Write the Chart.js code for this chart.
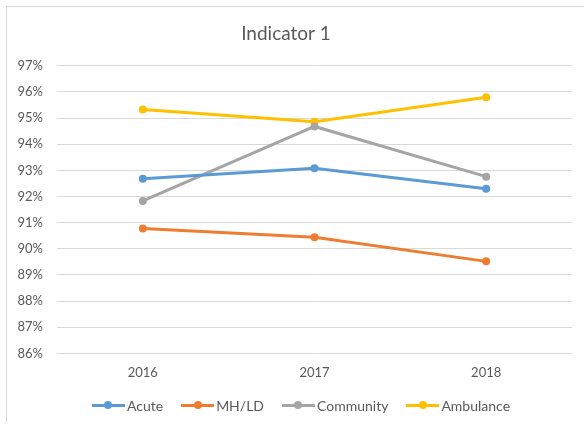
<!DOCTYPE html>
<html>
<head>
<meta charset="utf-8">
<script src="https://cdn.jsdelivr.net/npm/chart.js@4"></script>
<style>
  html, body { margin: 0; padding: 0; background: #fff; }
  #frame { position: relative; width: 584px; height: 426px; }
  #frame::before {
    content: ''; position: absolute; left: 6px; top: 6px; right: -2px; bottom: 4px;
    border-top: 1px solid #d9d9d9; border-left: 1px solid #d9d9d9; pointer-events: none;
  }
  canvas { display: block; }
  #legend {
    position: absolute; left: 0; right: 0; top: 396px; height: 18px;
    display: flex; justify-content: center; align-items: center;
    padding-left: 18px;
    font: 14px Lato, "Open Sans", sans-serif; color: #595959;
  }
  .legend-item { display: flex; align-items: center; margin: 0 9px; }
  .legend-line { position: relative; width: 33px; height: 3px; margin-right: 2px; }
  .legend-dot {
    position: absolute; left: 12.5px; top: -2.5px; width: 8px; height: 8px; border-radius: 50%;
  }
</style>
</head>
<body>
<div id="frame">
  <canvas id="chart" width="584" height="426"></canvas>
  <div id="legend"></div>
</div>
<script>
// Données
const years = ['2016', '2017', '2018'];
const acute = [92.68, 93.08, 92.3];
const mhld = [90.78, 90.44, 89.52];
const community = [91.83, 94.68, 92.76];
const ambulance = [95.33, 94.86, 95.8];
const seriesNames = ['Acute', 'MH/LD', 'Community', 'Ambulance'];
const seriesColors = ['#5B9BD5', '#ED7D31', '#A5A5A5', '#FFC000'];

const textColor = '#595959';
const fontFamily = 'Lato, "Open Sans", sans-serif';

const allSeries = [acute, mhld, community, ambulance];
const datasets = allSeries.map((values, i) => ({
    label: seriesNames[i],
    data: values,
    borderColor: seriesColors[i],
    backgroundColor: seriesColors[i],
    borderWidth: 3,
    pointRadius: 4,
    pointHoverRadius: 4,
    pointBorderWidth: 0,
    tension: 0,
    fill: false
}));

const chart = new Chart(document.getElementById('chart').getContext('2d'), {
    type: 'line',
    data: { labels: years, datasets: datasets },
    options: {
        responsive: false,
        animation: false,
        layout: { padding: { left: 0, right: 12, top: 0, bottom: 33 } },
        plugins: {
            title: {
                display: true,
                text: 'Indicator 1',
                color: textColor,
                font: { family: fontFamily, size: 19, weight: 'normal' },
                padding: { top: 22, bottom: 21 }
            },
            legend: { display: false },
            tooltip: { enabled: false }
        },
        scales: {
            x: {
                offset: true,
                grid: { display: false, drawTicks: false },
                border: { display: false },
                ticks: {
                    color: textColor,
                    font: { family: fontFamily, size: 13 },
                    padding: 12
                }
            },
            y: {
                min: 86,
                max: 97,
                afterFit: function(scale) { scale.width = 57; },
                grid: { color: '#d9d9d9', drawTicks: false },
                border: { display: false },
                ticks: {
                    stepSize: 1,
                    color: textColor,
                    font: { family: fontFamily, size: 13 },
                    padding: 14,
                    callback: v => v + '%'
                }
            }
        }
    }
});

// Légende HTML construite à partir des jeux de données du graphique
const legendEl = document.getElementById('legend');
chart.data.datasets.forEach(ds => {
    const item = document.createElement('span');
    item.className = 'legend-item';
    const line = document.createElement('span');
    line.className = 'legend-line';
    line.style.background = ds.borderColor;
    const dot = document.createElement('span');
    dot.className = 'legend-dot';
    dot.style.background = ds.borderColor;
    line.appendChild(dot);
    item.appendChild(line);
    item.appendChild(document.createTextNode(ds.label));
    legendEl.appendChild(item);
});
</script>
</body>
</html>
